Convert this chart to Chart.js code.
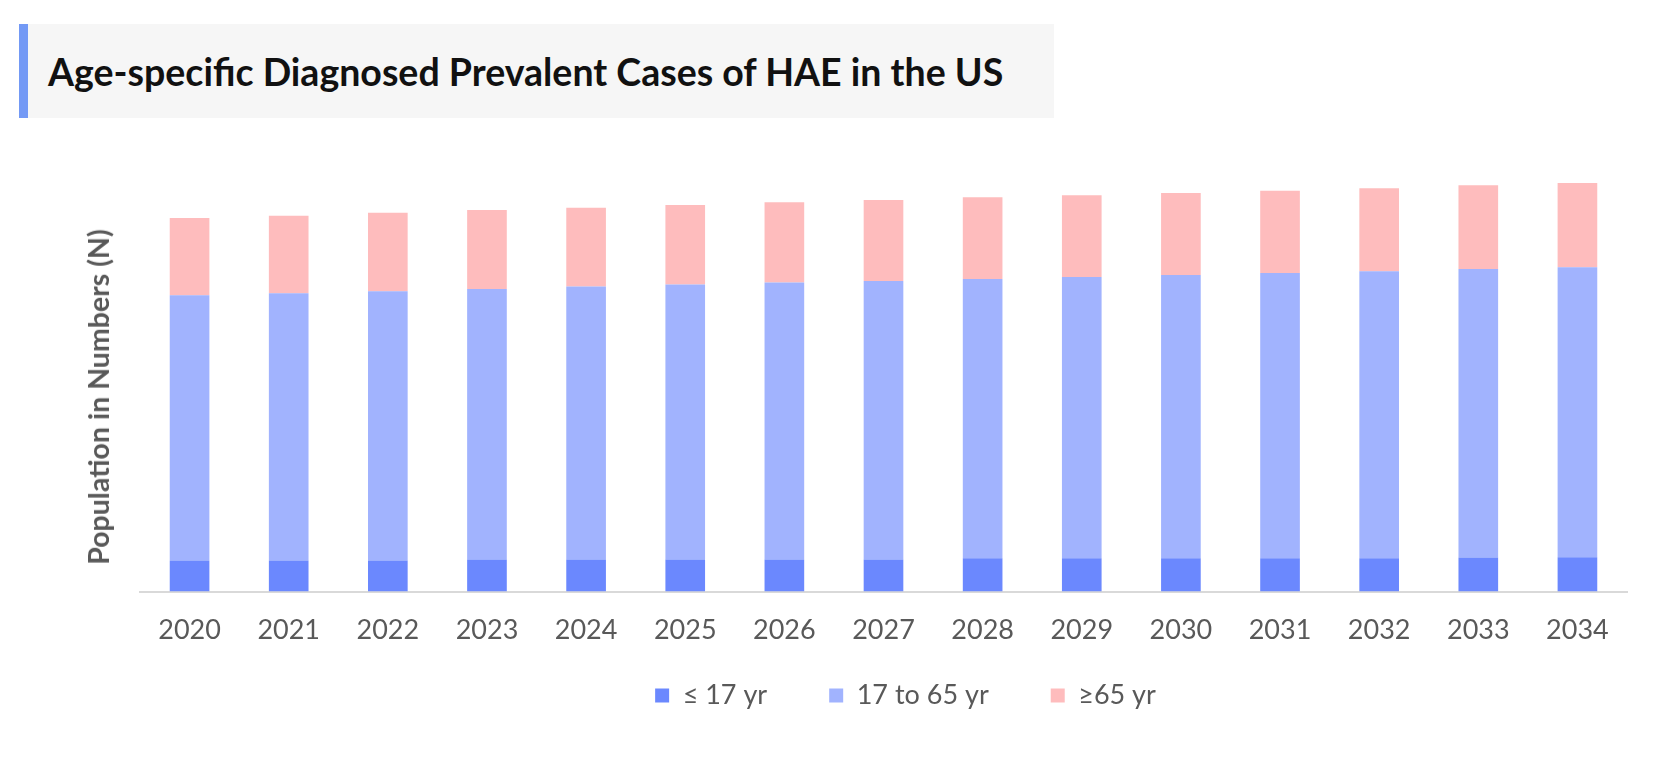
<!DOCTYPE html>
<html>
<head>
<meta charset="utf-8">
<script src="https://cdn.jsdelivr.net/npm/chart.js@4"></script>
<style>
  body { margin: 0; width: 1667px; height: 763px; overflow: hidden; background: #fff; font-family: Lato, "Open Sans", sans-serif; }
  #titre { position: absolute; left: 19px; top: 24px; width: 1035px; height: 94px; background: #f6f6f6;
           border-left: 9px solid #7399f5; display: flex; align-items: center; padding-left: 20px; box-sizing: border-box;
           font-size: 37.5px; font-weight: bold; color: #111; z-index: 2; }
  #axeY { position: absolute; left: 98px; top: 397px; transform: translate(-50%, -50%) rotate(-90deg);
          white-space: nowrap; font-size: 28.5px; font-weight: bold; color: #595959; z-index: 2; }
  #graph { position: absolute; left: 0; top: 0; }
</style>
</head>
<body>
<div id="titre">Age-specific Diagnosed Prevalent Cases of HAE in the US</div>
<div id="axeY">Population in Numbers (N)</div>
<canvas id="graph" width="1667" height="763"></canvas>
<script>
const annees = ['2020', '2021', '2022', '2023', '2024', '2025', '2026', '2027', '2028', '2029', '2030', '2031', '2032', '2033', '2034'];
const moins17 = [620, 620, 620, 640, 640, 640, 640, 640, 665, 665, 665, 665, 665, 680, 685];
const de17a65 = [5300, 5340, 5380, 5405, 5455, 5495, 5535, 5565, 5580, 5620, 5660, 5700, 5735, 5765, 5795];
const plus65 = [1540, 1545, 1565, 1575, 1570, 1585, 1600, 1615, 1630, 1630, 1635, 1640, 1655, 1670, 1680];
const libelles = ['≤ 17 yr', '17 to 65 yr', '≥65 yr'];

// la légende de l'original est décalée par rapport à la zone du graphique
const decalageLegende = {
  id: 'decalageLegende',
  afterLayout(chart) {
    const lg = chart.legend;
    lg.left += 22; lg.right += 22;
    lg.top -= 48; lg.bottom -= 48;
  }
};

const ctx = document.getElementById('graph').getContext('2d');
new Chart(ctx, {
  type: 'bar',
  data: {
    labels: annees,
    datasets: [
      { label: libelles[0], data: moins17, backgroundColor: '#6b88fe' },
      { label: libelles[1], data: de17a65, backgroundColor: '#a1b3fe' },
      { label: libelles[2], data: plus65, backgroundColor: '#febcbd' }
    ]
  },
  options: {
    responsive: false,
    animation: false,
    devicePixelRatio: 1,
    barPercentage: 0.4,
    categoryPercentage: 1,
    layout: { padding: { left: 140, right: 40, top: 141, bottom: 1 } },
    scales: {
      x: {
        stacked: true,
        grid: { display: false, drawTicks: false },
        border: { color: '#d9d9d9', width: 2 },
        ticks: { font: { family: 'Lato', size: 27 }, color: '#595959', padding: 22 }
      },
      y: { stacked: true, display: false, min: 0, max: 9000 }
    },
    plugins: {
      legend: {
        position: 'bottom',
        maxHeight: 94,
        labels: { boxWidth: 14, boxHeight: 14, padding: 62, font: { family: 'Lato', size: 27 }, color: '#595959' }
      },
      tooltip: { enabled: false }
    }
  },
  plugins: [decalageLegende]
});
</script>
</body>
</html>
